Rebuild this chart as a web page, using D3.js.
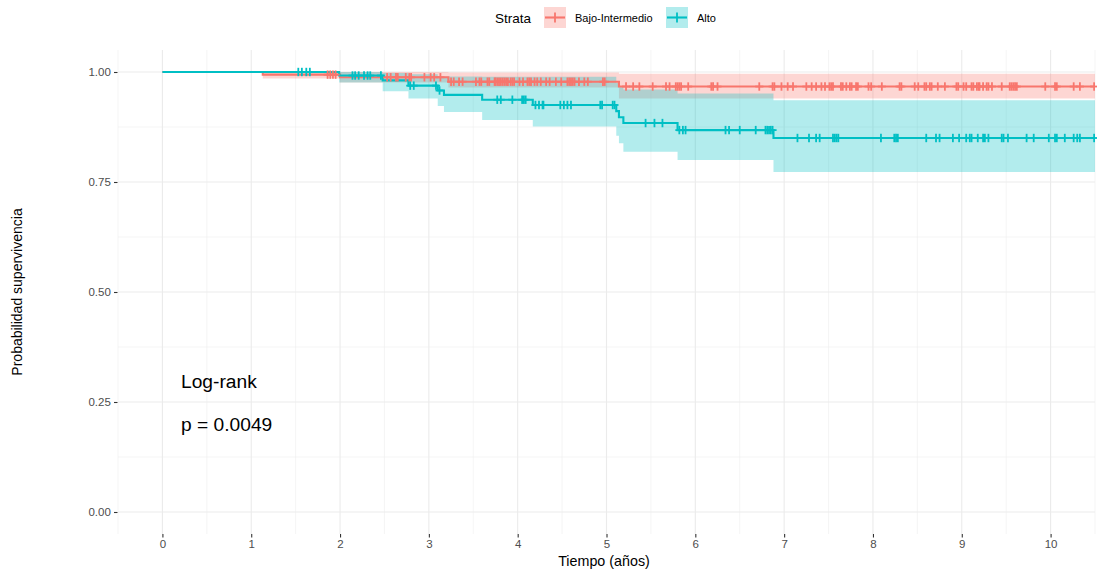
<!DOCTYPE html>
<html>
<head>
<meta charset="utf-8">
<script src="https://cdn.jsdelivr.net/npm/d3@7"></script>
<style>
  html, body { margin: 0; padding: 0; background: #fff; }
  svg { display: block; font-family: "Liberation Sans", Arial, Helvetica, sans-serif; }
</style>
</head>
<body>
<svg id="chart" width="1097" height="572"></svg>
<script>
// ---------------- DATA ----------------
const strataNames = ["Bajo-Intermedio", "Alto"];
const strataColors = ["#F8766D", "#00BFC4"];

const xTicks = [0, 1, 2, 3, 4, 5, 6, 7, 8, 9, 10];
const yTicks = [0, 0.25, 0.5, 0.75, 1.0];
const yTickLabels = ["0.00", "0.25", "0.50", "0.75", "1.00"];
const xMinor = [-0.5, 0.5, 1.5, 2.5, 3.5, 4.5, 5.5, 6.5, 7.5, 8.5, 9.5, 10.5];
const yMinor = [0.125, 0.375, 0.625, 0.875];
const endTime = 10.5;

// Bajo-Intermedio step curve
const bajoTime  = [0, 1.13, 2.00, 3.22, 5.14];
const bajoSurv  = [1, 0.994, 0.988, 0.978, 0.967];
const bajoLower = [1, 0.985, 0.976, 0.965, 0.940];
const bajoUpper = [1, 1.000, 1.000, 0.999, 0.996];
const bajoCensor = [1.86, 1.89, 1.92, 1.95, 2.53, 2.57, 2.63, 2.65, 2.74, 2.78, 2.80, 2.95, 3.02, 3.06, 3.13,
  3.25, 3.28, 3.34, 3.38, 3.53, 3.57, 3.59, 3.66, 3.68, 3.74, 3.75, 3.77, 3.79, 3.81, 3.83, 3.85, 3.87, 3.89,
  3.92, 3.94, 3.96, 4.02, 4.06, 4.11, 4.13, 4.15, 4.19, 4.22, 4.26, 4.32, 4.36, 4.43, 4.49, 4.56, 4.58, 4.60,
  4.62, 4.64, 4.69, 4.75, 4.79, 4.96, 4.98, 5.22, 5.30, 5.37, 5.52, 5.67, 5.71, 5.78, 5.80, 5.82, 5.84, 5.92,
  6.18, 6.20, 6.25, 6.72, 6.87, 6.89, 6.97, 7.04, 7.10, 7.25, 7.31, 7.36, 7.42, 7.46, 7.51, 7.53, 7.55, 7.64,
  7.66, 7.70, 7.74, 7.76, 7.81, 7.83, 7.95, 7.98, 8.10, 8.30, 8.32, 8.47, 8.51, 8.58, 8.60, 8.64, 8.66, 8.73,
  8.81, 8.94, 8.96, 9.02, 9.05, 9.11, 9.13, 9.17, 9.19, 9.20, 9.24, 9.28, 9.30, 9.34, 9.45, 9.54, 9.56, 9.58,
  9.60, 9.62, 9.94, 10.05, 10.07, 10.26, 10.33, 10.49];

// Alto step curve
const altoTime  = [0, 1.99, 2.48, 2.77, 3.10, 3.17, 3.60, 4.17, 5.11, 5.14, 5.19, 5.80, 6.88];
const altoSurv  = [1, 0.992, 0.981, 0.969, 0.958, 0.948, 0.937, 0.925, 0.911, 0.897, 0.884, 0.868, 0.850];
const altoLower = [1, 0.976, 0.956, 0.940, 0.923, 0.909, 0.891, 0.876, 0.855, 0.838, 0.819, 0.800, 0.773];
const altoUpper = [1, 1.000, 0.998, 0.995, 0.990, 0.990, 0.989, 0.989, 0.975, 0.967, 0.960, 0.951, 0.936];
const altoCensor = [1.53, 1.57, 1.62, 1.66, 2.14, 2.17, 2.21, 2.27, 2.31, 2.34, 2.46, 2.79, 2.83, 3.08, 3.12,
  3.77, 3.81, 3.94, 4.05, 4.07, 4.09, 4.20, 4.24, 4.28, 4.29, 4.48, 4.52, 4.56, 4.60, 4.93, 4.95, 5.07, 5.09,
  5.44, 5.54, 5.63, 5.82, 5.86, 5.89, 6.34, 6.38, 6.50, 6.68, 6.79, 6.81, 6.83, 6.85, 6.87,
  7.15, 7.28, 7.36, 7.40, 7.55, 7.57, 7.59, 7.61, 8.09, 8.24, 8.26, 8.28, 8.60, 8.71, 8.75, 8.90, 8.97, 9.05,
  9.09, 9.11, 9.18, 9.24, 9.26, 9.30, 9.45, 9.47, 9.52, 9.73, 9.81, 9.98, 10.05, 10.07, 10.16, 10.26, 10.30,
  10.33, 10.49];

// ---------------- CHART ----------------
const svg = d3.select("#chart");
const P = { left: 118, right: 1095, top: 50, bottom: 534 };
const x = d3.scaleLinear().domain([-0.5, 10.5]).range([P.left, P.right]);
const y = d3.scaleLinear().domain([-0.05, 1.05]).range([P.bottom, P.top]);

// grid
const grid = svg.append("g");
grid.selectAll(".xminor").data(xMinor).join("line")
  .attr("x1", d => x(d)).attr("x2", d => x(d)).attr("y1", P.top).attr("y2", P.bottom)
  .attr("stroke", "#EFEFEF").attr("stroke-width", 0.6);
grid.selectAll(".yminor").data(yMinor).join("line")
  .attr("x1", P.left).attr("x2", P.right).attr("y1", d => y(d)).attr("y2", d => y(d))
  .attr("stroke", "#EFEFEF").attr("stroke-width", 0.6);
grid.selectAll(".xmajor").data(xTicks).join("line")
  .attr("x1", d => x(d)).attr("x2", d => x(d)).attr("y1", P.top).attr("y2", P.bottom)
  .attr("stroke", "#EBEBEB").attr("stroke-width", 1.1);
grid.selectAll(".ymajor").data(yTicks).join("line")
  .attr("x1", P.left).attr("x2", P.right).attr("y1", d => y(d)).attr("y2", d => y(d))
  .attr("stroke", "#EBEBEB").attr("stroke-width", 1.1);

function buildSeries(times, surv, lower, upper) {
  const pts = times.map((t, i) => ({ t, s: surv[i], lo: lower[i], hi: upper[i] }));
  const last = pts[pts.length - 1];
  pts.push({ t: endTime, s: last.s, lo: last.lo, hi: last.hi });
  return pts;
}
function survAt(times, surv, t) {
  let v = surv[0];
  for (let i = 0; i < times.length; i++) if (times[i] <= t) v = surv[i];
  return v;
}

const series = [
  { name: strataNames[0], color: strataColors[0], pts: buildSeries(bajoTime, bajoSurv, bajoLower, bajoUpper),
    censor: bajoCensor.map(t => ({ t, s: survAt(bajoTime, bajoSurv, t) })) },
  { name: strataNames[1], color: strataColors[1], pts: buildSeries(altoTime, altoSurv, altoLower, altoUpper),
    censor: altoCensor.map(t => ({ t, s: survAt(altoTime, altoSurv, t) })) }
];

const area = d3.area().curve(d3.curveStepAfter)
  .x(d => x(d.t)).y0(d => y(d.lo)).y1(d => y(d.hi));
const line = d3.line().curve(d3.curveStepAfter)
  .x(d => x(d.t)).y(d => y(d.s));

svg.append("g").selectAll("path").data(series).join("path")
  .attr("d", d => area(d.pts)).attr("fill", d => d.color).attr("fill-opacity", 0.3);

svg.append("g").selectAll("path").data(series).join("path")
  .attr("d", d => line(d.pts)).attr("fill", "none").attr("stroke", d => d.color).attr("stroke-width", 2.1);

series.forEach(s => {
  const g = svg.append("g").attr("stroke", s.color).attr("stroke-width", 1.8);
  g.selectAll("line.v").data(s.censor).join("line")
    .attr("x1", d => x(d.t)).attr("x2", d => x(d.t))
    .attr("y1", d => y(d.s) - 4.2).attr("y2", d => y(d.s) + 4.2);
  g.selectAll("line.h").data(s.censor).join("line")
    .attr("x1", d => x(d.t) - 4).attr("x2", d => x(d.t) + 4)
    .attr("y1", d => y(d.s)).attr("y2", d => y(d.s));
});

// axes
const xAxis = svg.append("g").attr("transform", `translate(0,${P.bottom})`)
  .call(d3.axisBottom(x).tickValues(xTicks).tickSize(3.5).tickPadding(2.8).tickFormat(d3.format("d")));
const yAxis = svg.append("g").attr("transform", `translate(${P.left - 0.5},0)`)
  .call(d3.axisLeft(y).tickValues(yTicks).tickSize(3.5).tickPadding(3.2).tickFormat((d, i) => yTickLabels[i]));
[xAxis, yAxis].forEach(a => {
  a.select(".domain").remove();
  a.selectAll(".tick line").attr("stroke", "#333333").attr("stroke-width", 1.1);
  a.selectAll(".tick text").attr("fill", "#4D4D4D").style("font-size", "11.5px")
    .style("font-family", "'Liberation Sans', Arial, sans-serif");
});

// axis titles
svg.append("text").attr("x", 604).attr("y", 566).attr("text-anchor", "middle")
  .style("font-size", "14.3px").attr("fill", "#000").text("Tiempo (años)");
svg.append("text").attr("transform", "translate(22,292) rotate(-90)").attr("text-anchor", "middle")
  .style("font-size", "14px").attr("fill", "#000").text("Probabilidad supervivencia");

// annotation
svg.append("text").attr("x", 181).attr("y", 388).style("font-size", "19.2px").attr("fill", "#000").text("Log-rank");
svg.append("text").attr("x", 181).attr("y", 431).style("font-size", "19.2px").attr("fill", "#000").text("p = 0.0049");

// legend
const leg = svg.append("g");
leg.append("text").attr("x", 495).attr("y", 23).style("font-size", "13.5px").attr("fill", "#000").text("Strata");
const keyX = [544, 666];
const labX = [575, 697];
series.forEach((s, i) => {
  const k = leg.append("g").attr("transform", `translate(${keyX[i]},7)`);
  k.append("rect").attr("width", 22).attr("height", 21).attr("fill", s.color).attr("fill-opacity", 0.3);
  k.append("line").attr("x1", 1).attr("x2", 21).attr("y1", 10.5).attr("y2", 10.5)
    .attr("stroke", s.color).attr("stroke-width", 2.1);
  k.append("line").attr("x1", 11).attr("x2", 11).attr("y1", 5.5).attr("y2", 15.5)
    .attr("stroke", s.color).attr("stroke-width", 1.8);
  leg.append("text").attr("x", labX[i]).attr("y", 22).style("font-size", "11px").attr("fill", "#000").text(s.name);
});
</script>
</body>
</html>
